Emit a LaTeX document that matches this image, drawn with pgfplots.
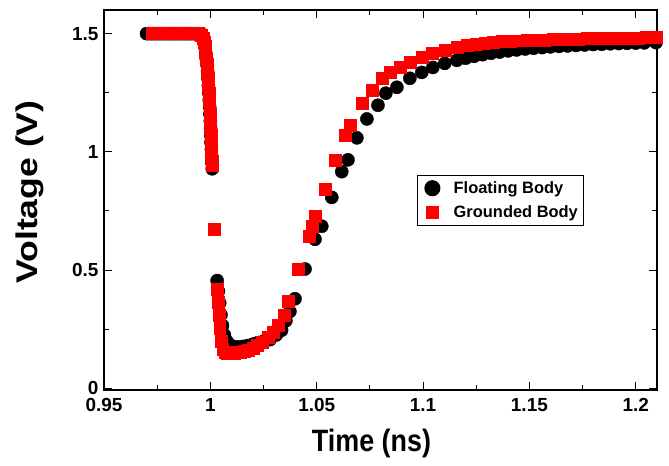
\documentclass[border=0pt]{standalone}
\usepackage{pgfplots}
\pgfplotsset{compat=1.18}
\usepackage{graphicx}
\usepackage{fontspec}
\setmainfont{Liberation Sans}
\pgfplotsset{
  legcirc/.style={legend image code/.code={\path (0cm,0cm) (1.02cm,0cm); \draw[##1, mark size=7.5pt] plot coordinates {(0.36cm,0cm)};}},
  legsq/.style={legend image code/.code={\path (0cm,0cm) (1.02cm,0cm); \draw[##1, mark size=6pt] plot coordinates {(0.36cm,0cm)};}},
}
\begin{document}
\begin{tikzpicture}
\begin{axis}[
  scale only axis,
  width=553bp, height=380bp,
  xmin=0.95, xmax=1.21, ymin=-0.008, ymax=1.6,
  xtick={0.95,1,1.05,1.1,1.15,1.2},
  ytick={0,0.5,1,1.5},
  minor x tick num=1, minor y tick num=1,
  tick align=inside,
  major tick length=8bp, minor tick length=5bp,
  axis line style={line width=1.6pt},
  every tick/.style={black, line width=0.9pt},
  /pgf/number format/assume math mode=true,
  tick label style={font=\fontsize{19}{20}\selectfont\bfseries},
  xticklabel style={yshift=-5bp},
  yticklabel style={xshift=-2bp},
  xlabel={\fontsize{27}{28}\selectfont\bfseries\scalebox{1}[1.15]{Time (ns)}},
  ylabel={\fontsize{30}{31}\selectfont\bfseries\scalebox{1.19}[1]{Voltage (V)}},
  xlabel style={yshift=-10bp, xshift=-9bp},
  ylabel style={yshift=21bp, xshift=8bp},
  clip=false,
  legend style={at={(0.566,0.566)}, anchor=north west, draw=black, line width=1.2pt,
     font=\fontsize{16.5}{18}\selectfont\bfseries, inner sep=4bp, row sep=7bp},
  legend cell align=left,
]
\addplot[only marks, mark=*, mark size=6.6pt, black, mark options={fill=black}, legcirc] coordinates {
(0.970,1.5)(0.971,1.5)(0.972,1.5)(0.973,1.5)(0.974,1.5)(0.975,1.5)(0.976,1.5)(0.977,1.5)
(0.978,1.5)(0.979,1.5)(0.980,1.5)(0.981,1.5)(0.982,1.5)(0.983,1.5)(0.984,1.5)(0.985,1.5)
(0.986,1.5)(0.987,1.5)(0.988,1.5)(0.989,1.5)(0.990,1.5)(0.991,1.5)(0.992,1.5)(0.993,1.5)
(0.994,1.5)(0.9950,1.498)(0.9958,1.493)(0.9965,1.482)(0.9970,1.465)(0.9974,1.445)
(0.9978,1.42)(0.9981,1.395)(0.9984,1.37)(0.9987,1.34)(0.9989,1.31)(0.9991,1.28)
(0.9993,1.25)(0.9995,1.22)(0.9997,1.19)(0.9998,1.16)(1.0000,1.13)(1.0001,1.10)
(1.0002,1.07)(1.0003,1.04)(1.0005,1.01)(1.0006,0.98)(1.0007,0.955)(1.0009,0.928)
(1.0032,0.455)(1.0038,0.41)(1.0044,0.36)(1.0050,0.31)(1.0057,0.265)(1.0066,0.225)
(1.0078,0.198)(1.0092,0.183)(1.0108,0.176)(1.0128,0.174)(1.0150,0.176)(1.0175,0.180)
(1.0200,0.186)(1.0225,0.193)(1.0250,0.198)(1.0280,0.205)(1.0310,0.225)(1.0335,0.245)
(1.0355,0.285)(1.0374,0.324)(1.0398,0.378)(1.0445,0.504)(1.0492,0.630)(1.0524,0.685)
(1.0571,0.807)(1.0618,0.916)(1.0647,0.966)(1.0689,1.059)(1.0736,1.139)(1.0788,1.197)
(1.0825,1.248)(1.0877,1.273)(1.0938,1.311)(1.0994,1.336)(1.1046,1.357)(1.1102,1.374)
(1.1159,1.387)(1.120,1.396)(1.124,1.404)(1.128,1.411)(1.132,1.417)(1.136,1.422)
(1.140,1.427)(1.144,1.431)(1.148,1.435)(1.152,1.438)(1.156,1.441)(1.160,1.444)
(1.164,1.446)(1.168,1.448)(1.172,1.450)(1.176,1.452)(1.180,1.454)(1.184,1.455)
(1.188,1.457)(1.192,1.458)(1.196,1.459)(1.200,1.460)(1.204,1.461)(1.2095,1.462)
};
\addlegendentry{Floating Body}
\addplot[only marks, mark=square*, mark size=6pt, red, mark options={fill=red, draw=red}, legsq] coordinates {
(0.9725,1.5)(0.9735,1.5)(0.9745,1.5)(0.9755,1.5)(0.9765,1.5)(0.9775,1.5)(0.9785,1.5)
(0.9795,1.5)(0.9805,1.5)(0.9815,1.5)(0.9825,1.5)(0.9835,1.5)(0.9845,1.5)(0.9855,1.5)
(0.9865,1.5)(0.9875,1.5)(0.9885,1.5)(0.9895,1.5)(0.9905,1.5)(0.9915,1.5)(0.9925,1.5)
(0.9935,1.5)(0.9942,1.5)(0.9950,1.498)(0.9958,1.493)(0.9965,1.482)(0.9970,1.465)
(0.9974,1.445)(0.9978,1.42)(0.9981,1.395)(0.9984,1.37)(0.9987,1.34)(0.9989,1.31)
(0.9991,1.28)(0.9993,1.25)(0.9995,1.22)(0.9997,1.19)(0.9998,1.16)(1.0000,1.13)
(1.0001,1.10)(1.0002,1.07)(1.0003,1.04)(1.0005,1.01)(1.0006,0.98)(1.0007,0.96)
(1.0008,0.945)
(1.0018,0.672)
(1.0034,0.42)(1.0037,0.365)(1.0041,0.308)(1.0044,0.252)(1.0050,0.197)(1.0058,0.165)
(1.0068,0.152)(1.0080,0.148)(1.0095,0.147)(1.0110,0.148)(1.0125,0.150)(1.0140,0.152)
(1.0160,0.156)(1.0180,0.162)(1.0200,0.170)(1.0220,0.180)(1.0245,0.195)(1.0270,0.215)
(1.0295,0.235)(1.0320,0.265)(1.0345,0.31)(1.0365,0.366)(1.0412,0.504)(1.0463,0.643)
(1.0477,0.685)(1.0492,0.727)(1.0539,0.840)(1.0586,0.966)(1.0633,1.071)(1.0656,1.113)
(1.0712,1.206)(1.0760,1.260)(1.0806,1.311)(1.0844,1.336)(1.0891,1.357)(1.0938,1.378)
(1.0994,1.399)(1.1041,1.416)(1.1102,1.429)(1.1159,1.441)(1.1206,1.450)(1.125,1.456)
(1.129,1.460)(1.133,1.463)(1.137,1.466)(1.141,1.468)(1.145,1.470)(1.149,1.472)
(1.153,1.473)(1.157,1.474)(1.161,1.475)(1.165,1.476)(1.169,1.477)(1.173,1.478)
(1.177,1.479)(1.181,1.480)(1.185,1.480)(1.189,1.481)(1.193,1.481)(1.197,1.482)
(1.201,1.482)(1.205,1.483)(1.2095,1.483)
};
\addlegendentry{Grounded Body}
\end{axis}
\path ([shift={(-104bp,-76bp)}]current axis.south west) rectangle ([shift={(12bp,10bp)}]current axis.north east);
\end{tikzpicture}
\end{document}
